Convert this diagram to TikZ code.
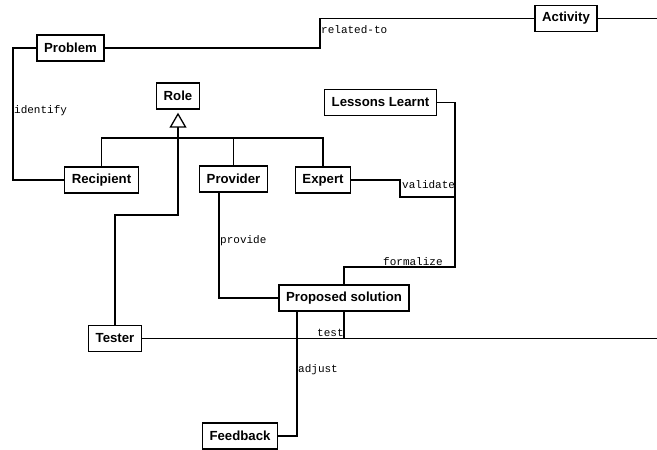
\documentclass[tikz,border=0pt]{standalone}
\usepackage{fontspec}
\setmainfont{Liberation Sans}
\newfontfamily\relfont{Liberation Mono}
\usetikzlibrary{arrows.meta}

\tikzset{
  cls/.style={draw, line width=1.4pt, font=\fontsize{13.2}{15}\selectfont\bfseries,
    inner xsep=7pt, inner ysep=0pt, minimum height=26pt, fill=white},
  rel/.style={line width=1.3pt},
  gen/.style={rel, -{Triangle[open, length=15pt, width=17pt, line width=1.3pt]}, shorten >=3pt},
  lbl/.style={font=\relfont\fontsize{11}{12}\selectfont, inner sep=1pt, anchor=west}
}

\begin{document}
\begin{tikzpicture}[x=1pt, y=-1pt]
  \useasboundingbox (0,0) rectangle (657,450);

  % classes
  \node[cls] (problem)   at (70.5, 48)   {Problem};
  \node[cls] (activity)  at (566, 18.5)  {Activity};
  \node[cls] (role)      at (178, 96)    {Role};
  \node[cls] (lessons)   at (380.5, 102.5) {Lessons Learnt};
  \node[cls] (recipient) at (101.5, 180) {Recipient};
  \node[cls] (provider)  at (233.5, 179) {Provider};
  \node[cls] (expert)    at (323, 180)   {Expert};
  \node[cls] (proposed)  at (344, 298)   {Proposed solution};
  \node[cls] (tester)    at (115, 338.5) {Tester};
  \node[cls] (feedback)  at (240, 436)   {Feedback};

  \coordinate (genjoin) at (178, 138);
  \coordinate (valjoin) at (455, 197);
  \coordinate (edgeA)   at (657, 18.5);
  \coordinate (edgeB)   at (657, 338.5);

  % generalization to Role
  \draw[rel] (recipient.north) -- (recipient.north |- genjoin)
    -- (expert.north |- genjoin) -- (expert.north);
  \draw[rel] (provider.north) -- (provider.north |- genjoin);
  \draw[rel] (tester.north) -- (115, 215) -| (genjoin);
  \draw[gen] (genjoin) -- (role.south);

  % associations
  \draw[rel] (problem.west) -- (13, 48) |- (recipient.west);
  \node[lbl] (lidentify) at (13, 111) {identify};

  \draw[rel] (problem.east) -- (320, 48) |- (activity.west);
  \node[lbl] (lrelated) at (320, 30) {related-to};
  \draw[rel] (activity.east) -- (edgeA);

  \draw[rel] (lessons.east) -- (455, 102.5) -- (455, 267) -| (proposed.north);
  \node[lbl] (lformalize) at (382, 262) {formalize};

  \draw[rel] (expert.east) -| (400, 197) -- (valjoin);
  \node[lbl] (lvalidate) at (401, 185) {validate};

  \draw[rel] ([xshift=-14.5pt]provider.south) |- (proposed.west);
  \node[lbl] (lprovide) at (219, 241) {provide};

  \draw[rel] (tester.east) -| (proposed.south);
  \draw[rel] (proposed.south |- tester.east) -- (edgeB);
  \node[lbl] (ltest) at (316, 333) {test};

  \draw[rel] ([xshift=-47pt]proposed.south) |- (feedback.east);
  \node[lbl] (ladjust) at (297, 370) {adjust};
\end{tikzpicture}
\end{document}
